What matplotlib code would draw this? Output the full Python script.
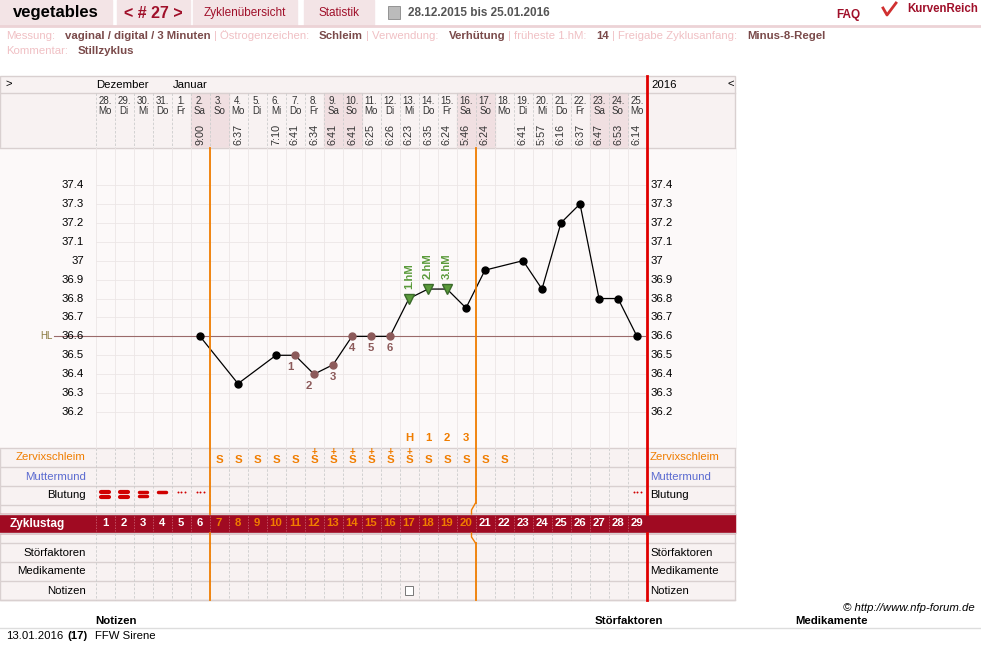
import numpy as np
import matplotlib.pyplot as plt
from matplotlib.patches import Rectangle

plt.rcParams['font.family'] = ['Liberation Sans', 'DejaVu Sans']

# data
dates = ['28.', '29.', '30.', '31.', '1.', '2.', '3.', '4.', '5.', '6.', '7.', '8.', '9.', '10.',
         '11.', '12.', '13.', '14.', '15.', '16.', '17.', '18.', '19.', '20.', '21.', '22.', '23.', '24.', '25.']
weekdays = ['Mo', 'Di', 'Mi', 'Do', 'Fr', 'Sa', 'So'] * 5
times = ['', '', '', '', '', '9:00', '', '6:37', '', '7:10', '6:41', '6:34', '6:41', '6:41', '6:25', '6:26',
         '6:23', '6:35', '6:24', '5:46', '6:24', '', '6:41', '5:57', '6:16', '6:37', '6:47', '6:53', '6:14']
temps = [None, None, None, None, None, 36.6, None, 36.35, None, 36.5, 36.5, 36.4, 36.45, 36.6, 36.6, 36.6,
         36.8, 36.85, 36.85, 36.75, 36.95, None, 37.0, 36.85, 37.2, 37.3, 36.8, 36.8, 36.6]
low_days = [11, 12, 13, 14, 15, 16]
high_days = [17, 18, 19]
mucus_days = list(range(7, 23))
mucus_plus = [12, 13, 14, 15, 16, 17]
bleed_days = [1, 2, 3, 4, 5, 6, 29]
bleed_kind = ['heavy', 'heavy', 'mid', 'light', 'spot', 'spot', 'spot']
temp_ticks = [36.2, 36.3, 36.4, 36.5, 36.6, 36.7, 36.8, 36.9, 37, 37.1, 37.2, 37.3, 37.4]
hl = 36.6

ORANGE = '#f07d00'
BG = '#f8f2f2'
GRID = '#d9d0d0'
PINK = '#f0c0c4'
BROWN = '#7a4a4a'
FS = 8.2


def dx(d):
    return 200 + (d - 6) * 19


def ty(t):
    return 185 + (37.4 - t) * 189.2


fig = plt.figure(figsize=(9.81, 6.6), dpi=100)
ax = fig.add_axes([0, 0, 1, 1])
ax.set_xlim(0, 981)
ax.set_ylim(660, 0)
ax.axis('off')

# header bar
for x0, w in [(0, 112), (117, 73), (193, 104), (304, 70)]:
    ax.add_patch(Rectangle((x0, 0), w, 25, color='#f3e4e6'))
ax.plot([0, 981], [25.5, 25.5], color='#ecd3d6', lw=2)
ax.text(56, 13, 'vegetables', fontsize=12, weight='bold', va='center', ha='center')
ax.text(153, 13, '< # 27 >', fontsize=11.5, weight='bold', va='center', ha='center', color='#a0102a')
ax.text(245, 13, 'Zyklenübersicht', fontsize=8.5, va='center', ha='center', color='#a0102a')
ax.text(339, 13, 'Statistik', fontsize=8.5, va='center', ha='center', color='#a0102a')
ax.add_patch(Rectangle((388, 6), 12, 13, facecolor='#bbbbbb', edgecolor='#888888', lw=0.6))
ax.text(408, 13, '28.12.2015 bis 25.01.2016', fontsize=8.5, va='center', color='#555555', weight='bold')
ax.text(836, 15, 'FAQ', fontsize=8.5, va='center', color='#a0102a', weight='bold')
ax.plot([883, 887, 896], [8, 15, 3], color='#d03030', lw=2)
ax.text(907, 9, 'KurvenReich', fontsize=8.3, va='center', color='#a0102a', weight='bold')

# info line laid out sequentially
info = [('Messung:', PINK), ('vaginal / digital / 3 Minuten', BROWN), ('| Östrogenzeichen:', PINK),
        ('Schleim', BROWN), ('| Verwendung:', PINK), ('Verhütung', BROWN),
        ('| früheste 1.hM:', PINK), ('14', BROWN), ('| Freigabe Zyklusanfang:', PINK),
        ('Minus-8-Regel', BROWN)]
fig.canvas.draw()
r = fig.canvas.get_renderer()
x = 6
for s, c in info:
    t = ax.text(x, 36, s, fontsize=FS, color=c, va='center', weight='normal' if c == PINK else 'bold')
    w = t.get_window_extent(r).width
    x += w + (10 if c == PINK else 3)
ax.text(6, 51, 'Kommentar:', fontsize=FS, color=PINK, va='center')
ax.text(78, 51, 'Stillzyklus', fontsize=FS, color=BROWN, va='center', weight='bold')

# chart frame background
ax.add_patch(Rectangle((0, 76), 735, 524, facecolor=BG, edgecolor=GRID, lw=1))
for d, wd in enumerate(weekdays[:29], start=1):
    if wd in ('Sa', 'So'):
        ax.add_patch(Rectangle((dx(d) - 9.5, 93), 19, 55, color='#f0dfe1'))
ax.add_patch(Rectangle((0, 148), 735, 300, color='#fcf9f9'))

# horizontal row lines
for y in [93, 148, 448, 467, 486, 505, 514, 533, 543, 562, 581, 600]:
    ax.plot([0, 735], [y, y], color=GRID, lw=1)
# dashed column lines
for d in range(1, 30):
    xl = dx(d) - 9.5
    for (ya, yb) in [(93, 148), (448, 505), (505, 514), (533, 600)]:
        ax.plot([xl, xl], [ya, yb], color='#cccccc', lw=0.6, ls=(0, (3, 2)))
    ax.plot([xl, xl], [148, 448], color='#ece6e6', lw=0.6)
for t in temp_ticks:
    ax.plot([96, 645], [ty(t), ty(t)], color='#ece6e6', lw=0.6)
    ax.text(84, ty(t), f'{t:g}', fontsize=FS, ha='right', va='center')
    ax.text(651, ty(t), f'{t:g}', fontsize=FS, ha='left', va='center')

ax.text(6, 84, '>', fontsize=FS, va='center')
ax.text(96, 85, 'Dezember', fontsize=FS, va='center')
ax.text(173, 85, 'Januar', fontsize=FS, va='center')
ax.text(651, 85, '2016', fontsize=FS, va='center')
ax.text(727, 84, '<', fontsize=FS, va='center')

for d in range(1, 30):
    xc = dx(d)
    ax.text(xc, 101, dates[d - 1], fontsize=7, ha='center', va='center', color='#333333')
    ax.text(xc, 111, weekdays[d - 1], fontsize=7, ha='center', va='center', color='#333333')
    if times[d - 1]:
        ax.text(xc, 145, times[d - 1], fontsize=7.8, ha='center', va='bottom', rotation=90, color='#333333')

# cover line
ax.plot([54, 645], [ty(hl), ty(hl)], color='#9a6a6a', lw=0.8)
ax.text(40, ty(hl), 'HL', fontsize=7, color='#8a7a40', ha='left', va='center')

# temperature curve
pts = [(dx(d), ty(t)) for d, t in enumerate(temps, start=1) if t is not None]
ax.plot([p[0] for p in pts], [p[1] for p in pts], color='black', lw=0.9)
for d, t in enumerate(temps, start=1):
    if t is None:
        continue
    if d in high_days:
        ax.plot(dx(d), ty(t), marker='v', ms=7, color='#5a9a3a', mec='#3a6a2a')
        ax.text(dx(d), ty(t) - 10, f'{high_days.index(d) + 1}.hM', rotation=90, fontsize=FS,
                color='#5a9a3a', ha='center', va='bottom', weight='bold')
    elif d in low_days:
        ax.plot(dx(d), ty(t), 'o', ms=5, color='#8c5a5a')
        ax.text(dx(d) - (5 if d in (11, 12) else 0), ty(t) + 12, str(low_days.index(d) + 1), fontsize=FS,
                color='#8c5a5a', ha='center', va='center', weight='bold')
    else:
        ax.plot(dx(d), ty(t), 'o', ms=5, color='black')
for i, lab in enumerate(['H', '1', '2', '3']):
    ax.text(dx(17 + i), 438, lab, fontsize=FS, color=ORANGE, ha='center', va='center', weight='bold')

# row labels
for y, lab, c in [(457.5, 'Zervixschleim', ORANGE), (476.5, 'Muttermund', '#5a6ad0'), (495.5, 'Blutung', 'black'),
                  (552.5, 'Störfaktoren', 'black'), (571.5, 'Medikamente', 'black'), (590.5, 'Notizen', 'black')]:
    ax.text(86, y, lab, fontsize=FS, color=c, ha='right', va='center')
    ax.text(650, y, lab, fontsize=FS, color=c, ha='left', va='center')

for d in mucus_days:
    ax.text(dx(d), 460, 'S', fontsize=FS, color=ORANGE, ha='center', va='center', weight='bold')
    if d in mucus_plus:
        ax.text(dx(d), 451.5, '+', fontsize=7, color=ORANGE, ha='center', va='center', weight='bold')

for d, k in zip(bleed_days, bleed_kind):
    xc = dx(d)
    if k == 'heavy':
        for yy in (492, 497):
            ax.plot([xc - 4, xc + 4], [yy, yy], color='#d00000', lw=3, solid_capstyle='round')
    elif k == 'mid':
        for yy in (492, 496):
            ax.plot([xc - 4, xc + 4], [yy, yy], color='#d00000', lw=2.5, solid_capstyle='round')
    elif k == 'light':
        ax.plot([xc - 4, xc + 4], [492, 492], color='#d00000', lw=2.5, solid_capstyle='round')
    else:
        ax.plot([xc - 3.5, xc, xc + 3.5], [492, 492, 492], 'o', ms=1.4, color='#d00000', mew=0)

# Zyklustag bar
ax.add_patch(Rectangle((0, 514), 735, 19, color='#a00a22'))
ax.text(10, 523.5, 'Zyklustag', fontsize=8.5, color='white', weight='bold', va='center')
for d in range(1, 30):
    c = ORANGE if 7 <= d <= 20 else 'white'
    ax.text(dx(d), 523.5, str(d), fontsize=FS, color=c, weight='bold', ha='center', va='center')
    ax.plot([dx(d) - 9.5] * 2, [516, 531], color='#d07080', lw=0.5, ls=(0, (2, 2)))

# vertical markers
xo1 = dx(6) + 9.5
xo2 = dx(20) + 9.5
ax.plot([xo1, xo1], [148, 514], color=ORANGE, lw=1.3)
ax.plot([xo1, xo1], [533, 600], color=ORANGE, lw=1.3)
ax.plot([xo2, xo2], [148, 503], color=ORANGE, lw=1.3)
ax.plot([xo2, xo2 - 4, xo2 - 4], [503, 510, 514], color=ORANGE, lw=1)
ax.plot([xo2 - 4, xo2 - 4, xo2], [533, 537, 543], color=ORANGE, lw=1)
ax.plot([xo2, xo2], [543, 600], color=ORANGE, lw=1.3)
xr = dx(29) + 9.5
ax.plot([xr, xr], [76, 514], color='#e00000', lw=2)
ax.plot([xr, xr], [533, 600], color='#e00000', lw=2)
ax.add_patch(Rectangle((dx(17) - 4, 586), 8, 9, facecolor='white', edgecolor='#777777', lw=0.7))

# footer
ax.text(975, 608, '© http://www.nfp-forum.de', fontsize=FS, ha='right', va='center', style='italic')
ax.text(95, 621, 'Notizen', fontsize=FS, weight='bold', va='center')
ax.text(595, 621, 'Störfaktoren', fontsize=FS, weight='bold', va='center')
ax.text(795, 621, 'Medikamente', fontsize=FS, weight='bold', va='center')
ax.plot([0, 981], [628, 628], color='#dddddd', lw=1)
ax.text(6, 636, '13.01.2016', fontsize=FS, va='center')
ax.text(67, 636, '(17)', fontsize=FS, va='center', weight='bold')
ax.text(95, 636, 'FFW Sirene', fontsize=FS, va='center')

fig.savefig('out.png', dpi=100)
